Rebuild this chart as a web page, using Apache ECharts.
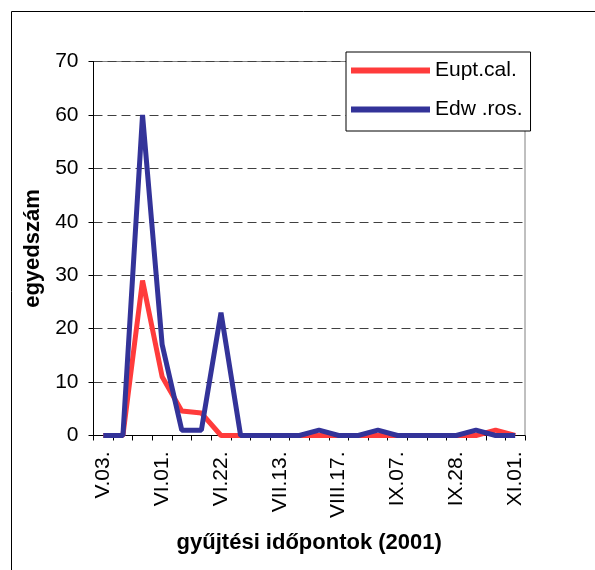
<!DOCTYPE html>
<html>
<head>
<meta charset="utf-8">
<script src="https://cdn.jsdelivr.net/npm/echarts@6/dist/echarts.min.js"></script>
<style>
html,body{margin:0;padding:0;background:#fff;}
#chart{width:595px;height:570px;}
</style>
</head>
<body>
<div id="chart"></div>
<script>
// 22 collection dates; only every third one is labelled in the source
var categories = ['V.03.','','','VI.01.','','','VI.22.','','','VII.13.','','','VIII.17.','','','IX.07.','','','IX.28.','','','XI.01.'];
var seriesNames = ['Eupt.cal.','Edw .ros.'];
var euptCal = [0,0,29,11,4.6,4.2,0,0,0,0,0,0,0,0,0,0,0,0,0,0,1,0];
var edwRos  = [0,0,60,17,1,1,23,0,0,0,0,1,0,0,1,0,0,0,0,1,0,0];
var yTicks = [0,10,20,30,40,50,60,70];
var xTitle = 'gyűjtési időpontok (2001)';
var yTitle = 'egyedszám';

var FONT = '"Liberation Sans", Arial, sans-serif';
var chart = echarts.init(document.getElementById('chart'), null, {renderer:'canvas'});
chart.setOption({
  animation:false,
  backgroundColor:'#fff',
  textStyle:{fontFamily:FONT},
  graphic:[{
    type:'rect', z:-10, silent:true,
    shape:{x:11.5,y:11.5,width:700,height:700},
    style:{fill:'none',stroke:'#000',lineWidth:1}
  }],
  grid:{left:93.5,right:70,top:61.5,bottom:134.5,show:true,borderColor:'#808080',borderWidth:1,backgroundColor:'transparent'},
  legend:{
    left:346, top:52, orient:'vertical',
    data:seriesNames,
    icon:'rect', itemWidth:79, itemHeight:6, itemGap:18,
    padding:[8,8,11,5],
    borderColor:'#000', borderWidth:1, backgroundColor:'#fff',
    textStyle:{fontFamily:FONT,fontSize:21,color:'#000',lineHeight:20,padding:[0,0,0,0]},
    selectedMode:false
  },
  xAxis:{
    type:'category', data:categories, boundaryGap:true,
    name:xTitle, nameLocation:'middle', nameGap:96,
    nameTextStyle:{fontFamily:FONT,fontSize:22,fontWeight:'bold',color:'#000'},
    axisLine:{show:true,lineStyle:{color:'#000',width:1}},
    axisTick:{show:true,interval:0,length:5,lineStyle:{color:'#000'}},
    axisLabel:{interval:0,rotate:90,margin:16,fontFamily:FONT,fontSize:21,color:'#000'},
    splitLine:{show:false}
  },
  yAxis:{
    type:'value', min:yTicks[0], max:yTicks[yTicks.length-1], interval:10,
    name:yTitle, nameLocation:'middle', nameGap:47, nameRotate:90,
    nameTextStyle:{fontFamily:FONT,fontSize:22,fontWeight:'bold',color:'#000'},
    axisLine:{show:true,lineStyle:{color:'#000',width:1}},
    axisTick:{show:true,length:5,lineStyle:{color:'#000'}},
    axisLabel:{margin:15,fontFamily:FONT,fontSize:21,color:'#000'},
    splitLine:{show:true,lineStyle:{color:'#404040',type:[9,5],width:1}}
  },
  series:[
    {name:seriesNames[0],type:'line',data:euptCal,showSymbol:false,symbol:'none',
     itemStyle:{color:'#FF3B3B'},lineStyle:{color:'#FF3B3B',width:5},z:2},
    {name:seriesNames[1],type:'line',data:edwRos,showSymbol:false,symbol:'none',
     itemStyle:{color:'#333399'},lineStyle:{color:'#333399',width:5},z:3}
  ]
});
</script>
</body>
</html>
